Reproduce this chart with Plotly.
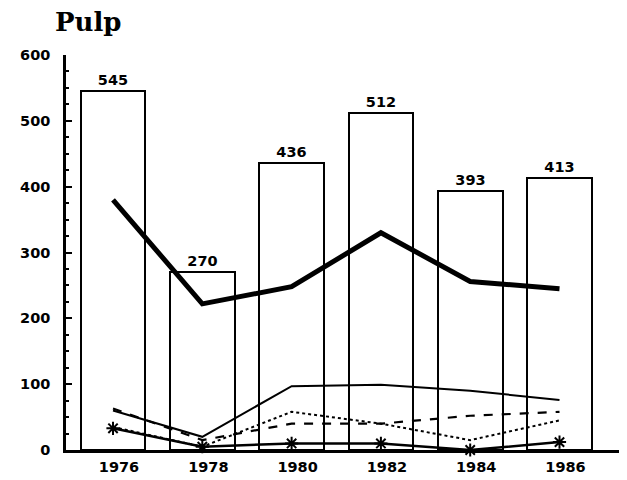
import plotly.graph_objects as go

years = [1976, 1978, 1980, 1982, 1984, 1986]
bar_values = [545, 270, 436, 512, 393, 413]
thick_line = [380, 222, 248, 330, 256, 245]
thin_line = [60, 20, 97, 99, 90, 76]
dashed_line = [63, 15, 40, 40, 52, 58]
dotted_line = [35, 5, 58, 40, 15, 45]
star_line = [33, 5, 10, 10, 0, 12]
y_ticks = [0, 100, 200, 300, 400, 500, 600]

lab_font = dict(family="DejaVu Sans", size=14.5, color="black", weight="bold")

fig = go.Figure()
fig.add_trace(go.Bar(
    x=years, y=bar_values, width=1.45,
    marker=dict(color="white", line=dict(color="black", width=2)),
    text=[str(v) for v in bar_values], textposition="outside",
    textfont=lab_font, cliponaxis=False, showlegend=False,
))
fig.add_trace(go.Scatter(x=years, y=thin_line, mode="lines",
                         line=dict(color="black", width=2), showlegend=False))
fig.add_trace(go.Scatter(x=years, y=dashed_line, mode="lines",
                         line=dict(color="black", width=2.2, dash="dash"), showlegend=False))
fig.add_trace(go.Scatter(x=years, y=dotted_line, mode="lines",
                         line=dict(color="black", width=2, dash="dot"), showlegend=False))
fig.add_trace(go.Scatter(x=years, y=star_line, mode="lines+markers",
                         line=dict(color="black", width=2.5),
                         marker=dict(symbol="asterisk-open", size=11,
                                     line=dict(color="black", width=2)),
                         cliponaxis=False, showlegend=False))
fig.add_trace(go.Scatter(x=years, y=thick_line, mode="lines",
                         line=dict(color="black", width=5), showlegend=False))

fig.update_layout(
    width=627, height=480,
    margin=dict(l=53, r=15, t=47, b=38),
    paper_bgcolor="white", plot_bgcolor="white",
    title=dict(text="Pulp", x=47/627, xanchor="left", xref="container",
               y=1 - 14/480, yanchor="middle", yref="container",
               font=dict(family="DejaVu Serif", size=26, color="black", weight="bold")),
    xaxis=dict(range=[1974.947, 1987.355], tickvals=years,
               ticktext=[str(y) for y in years], showgrid=False, zeroline=False,
               showline=True, linecolor="black", linewidth=2.5, ticks="",
               ticklabelshift=6, ticklabelstandoff=2,
               tickfont=lab_font),
    yaxis=dict(range=[0, 600], tickvals=y_ticks, showgrid=False, zeroline=False,
               showline=True, linecolor="black", linewidth=2.5,
               ticks="inside", ticklen=6, tickwidth=2, tickcolor="black",
               minor=dict(dtick=25, ticks="inside", ticklen=3, tickwidth=1.5,
                          tickcolor="black"),
               ticklabelstandoff=10, tickfont=lab_font),
    bargap=0,
)

fig.write_html("out.html")
